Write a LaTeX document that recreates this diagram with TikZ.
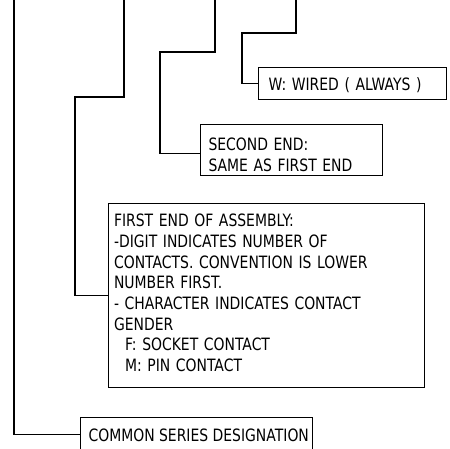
\documentclass[tikz,border=0pt]{standalone}
\usepackage{fontspec}
\setmainfont{DejaVu Sans}[FakeStretch=0.82]
\newcommand\mytxtfont{\fontsize{17}{20.7}\selectfont\spaceskip=5.6pt plus 0pt\relax}
\newcommand\mytightfont{\fontsize{17}{20.7}\selectfont\spaceskip=0pt\relax}
\begin{document}
\begin{tikzpicture}[x=1pt,y=-1pt,line width=1.1pt,
  box/.style={draw,anchor=north west,inner sep=0pt},
  txt/.style={anchor=north west,align=left,inner sep=0pt,font=\mytxtfont}]
\useasboundingbox (0,0) rectangle (450,449);
% boxes
\node[box,minimum width=188pt,minimum height=32pt] (w) at (258,67) {};
\node[box,minimum width=182pt,minimum height=51pt] (sec) at (200,124) {};
\node[box,minimum width=316pt,minimum height=184pt] (first) at (108,203) {};
\node[box,minimum width=232pt,minimum height=34pt] (common) at (80,417) {};
% texts
\node[txt] (wt) at ([shift={(10,10.5)}]w.north west) {W: WIRED ( ALWAYS )};
\node[txt] (sect) at ([shift={(8,13.7)}]sec.north west) {SECOND END:\\SAME AS FIRST END};
\node[txt] (firstt) at ([shift={(5.5,10.5)}]first.north west) {FIRST END OF ASSEMBLY:\\-DIGIT INDICATES NUMBER OF\\CONTACTS. CONVENTION IS LOWER\\NUMBER FIRST.\\- CHARACTER INDICATES CONTACT\\GENDER\\\hspace*{11pt}F: SOCKET CONTACT\\\hspace*{11pt}M: PIN CONTACT};
\node[txt,font=\mytightfont] (commont) at ([shift={(8,11)}]common.north west) {COMMON SERIES DESIGNATION};
% connectors
\coordinate (c1) at (14,-2);
\coordinate (c2) at (124,-2);
\coordinate (c3) at (215,-2);
\coordinate (c4) at (296,-2);
\draw (c1) |- (common.west);
\draw (c2) |- (75,97) |- (first.west);
\draw (c3) |- (160,52) |- ([yshift=-3.5pt]sec.west);
\draw (c4) |- (242,33) |- (w.west);
\end{tikzpicture}
\end{document}
